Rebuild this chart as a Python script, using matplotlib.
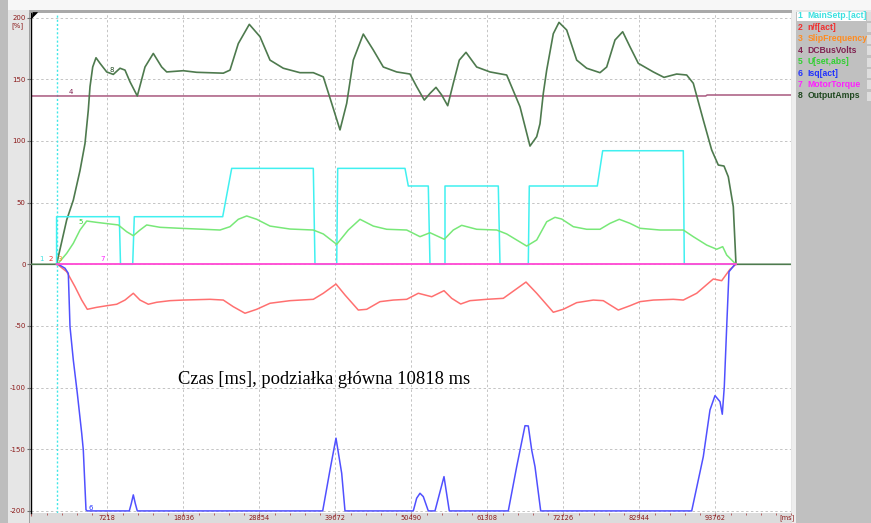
import matplotlib.pyplot as plt
from matplotlib.patches import Rectangle, Polygon

W, H = 871, 523

# time axis: main division 10818 ms, ten divisions shown
step = 10818
x_start = -3600
x_end = x_start + 10 * step
major_ticks = [x_start + k * step for k in range(10)]
major_labels = [""] + [str(x_start + k * step) for k in range(1, 10)]

# 1 MainSetp.[act]
setp_t = [0, 0, 8926, 9097, 10833, 11061, 23644, 24925, 36541, 36782,
          39871, 40013, 49593, 50063, 52909, 53151, 55286, 55286, 62873, 63115,
          67143, 67286, 76965, 77732, 89207, 89349, 96707]
setp_v = [0, 38.6, 38.6, 0, 0, 38.6, 38.6, 77.8, 77.8, 0,
          0, 77.8, 77.8, 63.5, 63.5, 0, 0, 63.5, 63.5, 0,
          0, 63.5, 63.5, 92.1, 92.1, 0, 0]

# 2 n/f[act]
nf_t = [0, 243, 1439, 2621, 3574, 4371, 5709, 7133, 8556, 9738, 10919, 11873,
        13054, 14250, 16143, 18036, 21836, 23729, 25153, 26818, 28484, 30377,
        33224, 36541, 37964, 39771, 41052, 42945, 44141, 46034, 47927, 49835,
        51486, 53393, 55144, 56240, 57521, 58845, 61222, 63585, 65250, 66816,
        68339, 70702, 72125, 74032, 76395, 77819, 79954, 81619, 83043, 84936,
        87783, 89207, 91113, 93476, 94672, 95853, 96565, 96707]
nf_v = [0, -0.6, -6, -18.2, -29, -36.5, -34.9, -33.6, -32.4, -29, -23.5, -29,
        -32.4, -30.8, -29.5, -29, -28.4, -29, -34.4, -39.7, -36.5, -31.6,
        -29.5, -28.4, -23.5, -16, -24.9, -37.1, -36.5, -30.3, -29, -28.4,
        -23.5, -26.3, -21.4, -27.6, -32.2, -29.5, -28.4, -27.6, -20.8, -14.4,
        -23.5, -38.9, -36.5, -31.1, -29, -29.5, -37.1, -33.6, -30.3, -29,
        -28.4, -29, -23.5, -11.9, -13.3, -4.1, -0.6, 0]

# 3 SlipFrequency
slip_t = [0, 96707]
slip_v = [0, 0]

# 4 DCBusVolts
dc_t = [-3600, 92400, 92600, 104580]
dc_v = [136.5, 136.5, 137.3, 137.3]

# 5 U[set,abs]
u_t = [0, 243, 1439, 2379, 3332, 4286, 5709, 7602, 8784, 9979, 10919, 11873,
       12826, 14719, 17566, 20883, 23260, 24683, 25864, 27060, 28484, 30377,
       33224, 36541, 37964, 39871, 41522, 43187, 45081, 46988, 49835, 51728,
       53151, 55187, 56468, 57663, 59798, 62645, 64069, 66915, 68339, 69763,
       70944, 71897, 73549, 75456, 77349, 78772, 80097, 81619, 83043, 85889,
       89207, 90629, 92537, 93960, 94814, 95384, 96565, 96707]
u_v = [0, 0.8, 8.9, 17, 27.8, 35.1, 34, 32.7, 31.9, 26.4, 23.2, 27.8,
       31.9, 30, 29.2, 28.4, 27.8, 30.5, 36.5, 39.2, 36.5, 31,
       28.6, 27.8, 24.6, 16.2, 27.8, 36.5, 31, 28.4, 27.8, 22.4,
       25.6, 20.3, 27.8, 31.6, 28.4, 27.8, 24.6, 14.8, 19.7, 34.5,
       38.1, 36.7, 30.5, 28.4, 28.4, 33.2, 36.5, 33.2, 29.2, 27.8,
       27.8, 22.4, 15.6, 12.2, 14.3, 7.5, 0.8, 0]

# 6 Isq[act]
isq_t = [0, 243, 1197, 1667, 1909, 2379, 2948, 3574, 3802, 4186, 4371,
         10350, 10635, 10919, 11203, 11488, 37878, 38917, 39771, 40583, 41052,
         50774, 51254, 51728, 52198, 52909, 53863, 55144, 55898, 64296, 65492,
         66674, 67143, 67627, 68097, 68908, 90402, 92053, 93006, 93718, 94430,
         94757, 95042, 95384, 95711, 96565, 96707]
isq_v = [0, 0, -3.2, -7.3, -50.6, -77.6, -104.6, -137, -150.6, -199.2, -200,
         -200, -194, -187, -194, -200, -200, -166.8, -141, -169.5, -200,
         -200, -189.7, -185.7, -188.4, -200, -200, -172.2, -200, -200, -164.1,
         -130.9, -131.1, -150.6, -164.1, -200, -200, -156, -118.1, -106.5, -111.4,
         -121.6, -99.2, -50.6, -6, 0, 0]

# 7 MotorTorque
torque_t = [0, 96707]
torque_v = [0, 0]

# 8 OutputAmps
amps_t = [-3600, 0, 1439, 2379, 3332, 4044, 4513, 4756, 5140, 5610, 6179, 7133,
          8072, 9026, 9738, 10449, 11488, 12584, 13766, 14961, 15673, 18036,
          19943, 23729, 24683, 25864, 27430, 28953, 30377, 32270, 34647, 36541,
          37964, 39159, 40341, 41294, 42234, 43657, 45081, 46504, 48411, 50304,
          51258, 52340, 53151, 54005, 54817, 55671, 56468, 57322, 58275, 59798,
          61692, 64069, 65962, 67385, 68339, 68809, 69279, 69763, 70702, 71513,
          72609, 74032, 75456, 77349, 78303, 79484, 80580, 81619, 82801, 84936,
          86459, 88266, 89690, 90629, 92053, 93248, 94188, 94999, 95611, 96323,
          96707, 104580]
amps_v = [0, 0, 36, 52, 76, 98, 125, 144, 160, 167.5, 163, 156,
          154, 159, 157.5, 148, 136.5, 160, 171, 160, 156, 157,
          155.7, 155, 157.5, 179, 194.6, 184.6, 165.6, 159, 155.4, 155.4,
          152, 130.5, 109, 130.5, 165.6, 186.7, 173.8, 160, 156, 154.3,
          144, 133.2, 138.6, 143.5, 137.3, 128.6, 146.8, 165.6, 171.9, 160,
          156, 153.5, 127.8, 95.9, 103.5, 114, 138.6, 157.5, 187, 196.2,
          190, 165.6, 159, 155.4, 160, 181.9, 188.6, 176.4, 163, 156,
          151.6, 154.3, 153.5, 146.8, 117, 92.7, 80.5, 79.7, 71, 46.7,
          0, 0]

names = ["MainSetp.[act]", "n/f[act]", "SlipFrequency", "DCBusVolts",
         "U[set,abs]", "Isq[act]", "MotorTorque", "OutputAmps"]
legend_colors = ["#3ee0e0", "#f03030", "#ff8c20", "#802050",
                 "#30d030", "#2030ff", "#ff20ff", "#204820"]

# small trace numbers written on the curves (ms, %)
tag_t = [-2219, -796, 485, 2051, 3475, 4898, 6606, 7887]
tag_v = [4.3, 4.3, 4.3, 139.6, 34.3, -197.5, 4.3, 157.5]

tick_red = "#8b1a1a"


def fig_rect(x0, y0, x1, y1, color, z=-5):
    fig.add_artist(Rectangle((x0 / W, 1 - y1 / H), (x1 - x0) / W, (y1 - y0) / H,
                             transform=fig.transFigure, facecolor=color,
                             edgecolor="none", zorder=z))


fig = plt.figure(figsize=(W / 100, H / 100), dpi=100)
fig.patch.set_facecolor("#e6e6e6")

# window chrome
fig_rect(0, 0, 8, H, "#bdbdbd")
fig_rect(8, 0, W, 10, "#f7f7f7")
fig_rect(29, 10, 795, 12.5, "#a9a9a9")
fig_rect(29, 12.5, 30, H, "#a0a0a0")
fig_rect(30, 513, 792, H, "#dcdcdc")
fig_rect(792, 10, 796, H, "#eeeeee")
fig_rect(796, 11.5, W, H, "#c0c0c0")
fig_rect(797, 12, 866, 21, "#ffffff", z=-4)

ax = fig.add_axes([31.3 / W, 1 - 513 / H, 760 / W, 500 / H])
ax.set_facecolor("white")
ax.set_xlim(x_start, x_end)
ax.set_ylim(-201.7, 203.8)

for s in ["top", "right", "bottom"]:
    ax.spines[s].set_visible(False)
ax.spines["left"].set_color("black")
ax.spines["left"].set_linewidth(1.0)

ax.set_yticks(range(-200, 201, 50))
ax.set_yticklabels([str(v) for v in range(-200, 201, 50)])
ax.tick_params(axis="y", length=3, width=0.8, color="#707070",
               labelcolor=tick_red, labelsize=5, pad=1)
ax.set_xticks(major_ticks)
ax.set_xticklabels(major_labels)
ax.set_xticks([x_start + k * step / 5 for k in range(51)], minor=True)
ax.tick_params(axis="x", which="major", length=2, width=0.8, color="#b06060",
               labelcolor=tick_red, labelsize=4.8, pad=-0.6)
ax.tick_params(axis="x", which="minor", length=1.5, width=0.7, color="#b06060")

ax.set_axisbelow(True)
ax.grid(True, which="major", color="#c4c4c4", linestyle=(0, (2.5, 2.5)), linewidth=0.7)

ax.axvline(0, color="#40e8e8", linestyle=(0, (1.5, 1.5)), linewidth=1.0, zorder=1)

ax.plot(dc_t, dc_v, color="#a8587e", lw=1.1, zorder=2)
ax.plot(amps_t, amps_v, color="#4e7a4e", lw=1.2, zorder=3)
ax.plot(setp_t, setp_v, color="#40f0f0", lw=1.1, zorder=4)
ax.plot(u_t, u_v, color="#78e878", lw=1.1, zorder=4)
ax.plot(nf_t, nf_v, color="#ff7070", lw=1.1, zorder=4)
ax.plot(isq_t, isq_v, color="#5050ff", lw=1.1, zorder=5)
ax.plot(slip_t, slip_v, color="#ff9020", lw=1.1, zorder=5)
ax.plot(torque_t, torque_v, color="#ff40ff", lw=1.1, zorder=6)

for i in range(8):
    ax.text(tag_t[i], tag_v[i], str(i + 1), color=legend_colors[i], fontsize=5,
            ha="center", va="center", zorder=7)

# units
fig.text(17 / W, 1 - 26 / H, "[%]", color=tick_red, fontsize=5, ha="center", va="center")
fig.text(787 / W, 1 - 514.5 / H, "[ms]", color=tick_red, fontsize=4.8, ha="center", va="top")

# cursor mark top-left
fig.add_artist(Polygon([(32 / W, 1 - 18 / H), (33 / W, 1 - 12.5 / H), (37.5 / W, 1 - 12.5 / H)],
                       closed=True, transform=fig.transFigure, facecolor="black",
                       edgecolor="black", lw=0.5, zorder=5))

# legend panel
for i in range(8):
    yc = 1 - (16 + i * 11.4) / H
    fig.text(800 / W, yc, str(i + 1), color=legend_colors[i], fontsize=6.2,
             fontweight="bold", family="Liberation Sans", ha="center", va="center")
    fig.text(807.5 / W, yc, names[i], color=legend_colors[i], fontsize=6.2,
             fontweight="bold", family="Liberation Sans", ha="left", va="center")
    fig_rect(866.5, 12 + i * 11.4, W, 21 + i * 11.4, "#dedede", z=-3)

fig.text(178 / W, 1 - 384 / H, "Czas [ms], podziałka główna 10818 ms",
         family="Liberation Serif", fontsize=13.3, ha="left", va="baseline")

fig.savefig("out.png", dpi=100)
